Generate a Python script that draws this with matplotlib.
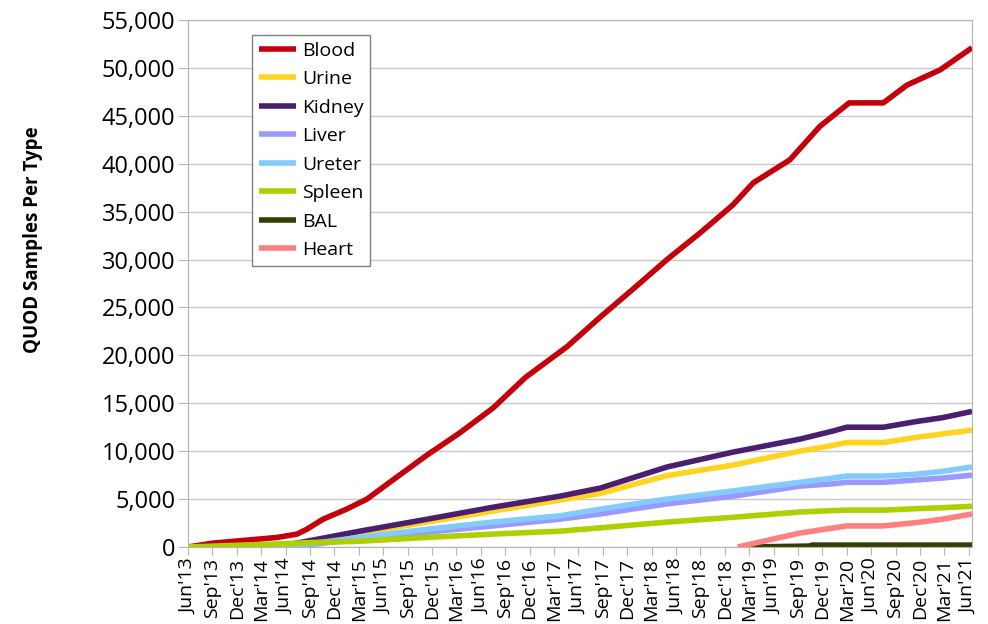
import matplotlib
matplotlib.use('Agg')
import matplotlib.pyplot as plt
from matplotlib.ticker import FuncFormatter

plt.rcParams['font.family'] = ['Open Sans', 'DejaVu Sans']

# months since Jun 2013
blood_m = [0, 3, 7, 11, 13.4, 14.6, 16.6, 19.5, 22, 25.2, 29.4, 33.4, 37.5, 41.5,
           46.6, 50.7, 54.7, 58.9, 63, 67, 69.5, 74, 77.7, 80.2, 81.3, 85.5, 88.4, 92.5, 96.4]
blood = [0, 400, 700, 1000, 1350, 1850, 2900, 3950, 5000, 7000, 9600, 11900, 14500, 17700,
         20900, 24000, 26900, 30000, 32800, 35700, 38000, 40400, 43900, 45600, 46350, 46350,
         48200, 49800, 52100]

other_m = [0, 12, 14.6, 21.1, 29.4, 37.5, 45.7, 50.7, 58.9, 67, 75.2, 79.3, 81, 85.5, 89.6, 92.8, 96.4]
kidney = [0, 200, 600, 1650, 2900, 4150, 5300, 6150, 8350, 9900, 11250, 12100, 12500, 12500, 13100, 13500, 14150]
urine = [0, 100, 400, 1450, 2600, 3750, 4900, 5600, 7450, 8550, 10000, 10600, 10900, 10900, 11450, 11800, 12200]
ureter = [0, 100, 300, 1000, 1850, 2600, 3250, 3950, 5000, 5850, 6750, 7200, 7400, 7400, 7600, 7900, 8350]
liver = [0, 50, 200, 850, 1550, 2200, 2900, 3450, 4500, 5300, 6350, 6600, 6750, 6750, 7000, 7200, 7500]
spleen = [0, 350, 450, 600, 1000, 1350, 1650, 2000, 2600, 3100, 3650, 3800, 3850, 3850, 4000, 4100, 4250]

bal_m = [68.9, 76.5, 76.7, 96.4]
bal = [0, 100, 200, 200]

heart_m = [67.6, 75.2, 81, 85.5, 89.6, 92.8, 96.4]
heart = [0, 1450, 2200, 2200, 2550, 2900, 3450]

tick_labels = []
for y in range(13, 22):
    for mon in ['Mar', 'Jun', 'Sep', 'Dec']:
        tick_labels.append(f"{mon}'{y}")
tick_labels = tick_labels[1:34]

series = [
    ('Blood', blood_m, blood, '#c5000b'),
    ('Urine', other_m, urine, '#ffd320'),
    ('Kidney', other_m, kidney, '#4b1f6f'),
    ('Liver', other_m, liver, '#9999ff'),
    ('Ureter', other_m, ureter, '#83caff'),
    ('Spleen', other_m, spleen, '#aecf00'),
    ('BAL', bal_m, bal, '#314004'),
    ('Heart', heart_m, heart, '#ff8080'),
]

fig = plt.figure(figsize=(9.88, 6.24), dpi=100)
ax = fig.add_axes([0.1903, 0.1234, 0.7935, 0.8446])

for name, xs, ys, c in series:
    ax.plot(xs, ys, color=c, lw=4, label=name, solid_capstyle='butt')

ax.set_xlim(0, 96.4)
ax.set_ylim(0, 55000)
ax.set_yticks(range(0, 55001, 5000))
ax.yaxis.set_major_formatter(FuncFormatter(lambda v, p: f'{int(v):,}'))
ax.set_xticks(range(0, 97, 3))
ax.set_xticklabels(tick_labels, rotation=90, fontsize=14)
ax.tick_params(axis='y', labelsize=17, length=7, color='#b3b3b3', pad=2)
ax.tick_params(axis='x', length=6, color='#b3b3b3', pad=2)
ax.grid(axis='y', color='#c8c8c8', lw=1)
ax.set_axisbelow(True)
for s in ax.spines.values():
    s.set_color('#b3b3b3')

fig.text(0.033, 1 - 240 / 624, 'QUOD Samples Per Type', rotation=90, fontsize=13.5,
         fontweight='bold', ha='center', va='center')

leg = ax.legend(loc='upper left', bbox_to_anchor=(0.082, 0.972), fontsize=14,
                frameon=True, fancybox=False, edgecolor='#808080', framealpha=1,
                handlelength=1.9, handletextpad=0.3, labelspacing=0.54,
                borderpad=0.35, borderaxespad=0)
leg.get_frame().set_linewidth(1)

fig.savefig('out.png', dpi=100)
